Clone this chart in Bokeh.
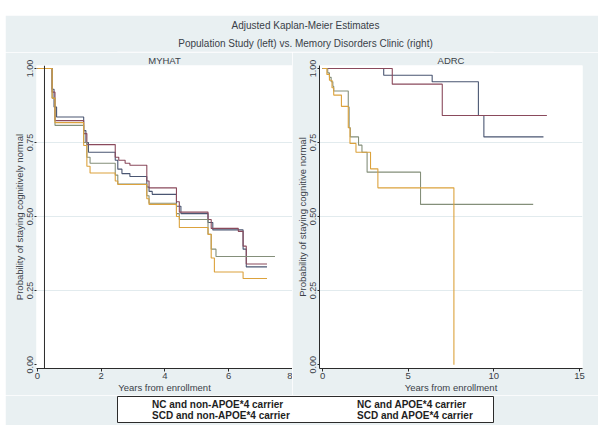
from bokeh.plotting import figure
from bokeh.layouts import column, row, Spacer
from bokeh.models import (Range1d, FixedTicker, NumeralTickFormatter, Span, Title,
                          Legend, LegendItem)
from bokeh.embed import file_html
from bokeh.resources import INLINE

# ---------------- data ----------------
series_labels = ["NC and non-APOE*4 carrier", "NC and APOE*4 carrier",
                 "SCD and non-APOE*4 carrier", "SCD and APOE*4 carrier"]

# MYHAT (population study)
myhat_nc_non_t = [0, 0.46, 0.52, 0.60, 1.45, 1.52, 1.60, 2.44, 2.52, 2.65, 2.90, 3.43, 3.50, 3.60, 4.36, 4.50, 5.35, 5.50, 6.45, 6.55, 7.20]
myhat_nc_non_s = [1.0, 0.93, 0.87, 0.836, 0.79, 0.75, 0.717, 0.69, 0.66, 0.645, 0.635, 0.60, 0.585, 0.575, 0.535, 0.51, 0.48, 0.455, 0.39, 0.33, 0.33]

myhat_nc_apoe_t = [0, 0.46, 0.55, 1.45, 1.55, 2.44, 2.55, 2.75, 2.90, 3.43, 3.50, 4.36, 4.45, 5.35, 5.45, 6.30, 6.45, 6.55, 7.20]
myhat_nc_apoe_s = [1.0, 0.92, 0.824, 0.78, 0.743, 0.70, 0.69, 0.68, 0.673, 0.62, 0.597, 0.55, 0.515, 0.49, 0.46, 0.45, 0.40, 0.34, 0.34]

myhat_scd_non_t = [0, 0.46, 0.55, 1.45, 1.55, 1.65, 2.44, 2.52, 3.43, 3.50, 4.36, 4.45, 5.35, 5.45, 5.60, 7.45]
myhat_scd_non_s = [1.0, 0.90, 0.808, 0.75, 0.70, 0.68, 0.64, 0.61, 0.57, 0.545, 0.51, 0.49, 0.44, 0.39, 0.365, 0.365]

myhat_scd_apoe_t = [0, 0.46, 0.55, 1.45, 1.55, 1.65, 2.44, 2.52, 3.43, 3.50, 4.36, 4.45, 5.35, 5.45, 5.55, 6.45, 7.20]
myhat_scd_apoe_s = [1.0, 0.90, 0.817, 0.74, 0.67, 0.647, 0.62, 0.608, 0.56, 0.541, 0.50, 0.463, 0.44, 0.36, 0.313, 0.291, 0.291]

# ADRC (memory disorders clinic)
adrc_nc_non_t = [0, 3.57, 6.40, 9.10, 9.42, 12.90]
adrc_nc_non_s = [1.0, 0.977, 0.955, 0.841, 0.769, 0.769]

adrc_nc_apoe_t = [0, 4.07, 6.99, 13.10]
adrc_nc_apoe_s = [1.0, 0.947, 0.841, 0.841]

adrc_scd_non_t = [0, 0.30, 0.40, 0.50, 0.60, 0.65, 1.50, 1.55, 1.62, 2.10, 2.30, 2.60, 5.72, 12.30]
adrc_scd_non_s = [1.0, 0.985, 0.97, 0.955, 0.94, 0.924, 0.87, 0.80, 0.769, 0.741, 0.717, 0.65, 0.541, 0.541]

adrc_scd_apoe_t = [0, 0.25, 0.40, 0.55, 0.65, 1.10, 1.50, 1.60, 1.95, 2.80, 3.23, 7.67]
adrc_scd_apoe_s = [1.0, 0.98, 0.96, 0.935, 0.91, 0.872, 0.80, 0.747, 0.717, 0.661, 0.597, 0.0]

left_xticks = [0, 2, 4, 6, 8]
right_xticks = [0, 5, 10, 15]
yticks = [0, 0.25, 0.5, 0.75, 1.0]

# ---------------- style ----------------
FONT = "Liberation Sans"
BG = "#E9F0F2"
TXT = "#3a3f48"
GRID = "#E2EBEE"
COLORS = ["#4a5672", "#8a4a5c", "#848f7a", "#dca23c"]
LW = 1.1
PANEL_H = 343


def make_panel(title, width, x_start, x_end, xticks, ylabel, border_left, border_right):
    p = figure(width=width, height=PANEL_H, x_range=Range1d(x_start, x_end),
               y_range=Range1d(-0.013, 1.01), output_backend="svg",
               toolbar_location=None, min_border_left=border_left,
               min_border_right=border_right, min_border_top=12, min_border_bottom=0)
    p.background_fill_color = "white"
    p.border_fill_color = BG
    p.outline_line_color = None
    p.title.text = title
    p.title.align = "center"
    p.title.text_font = FONT
    p.title.text_font_size = "9.5px"
    p.title.text_font_style = "normal"
    p.title.text_color = TXT
    p.title.standoff = 0
    p.title.offset = 0

    p.xaxis.ticker = FixedTicker(ticks=xticks)
    p.yaxis.ticker = FixedTicker(ticks=yticks)
    p.yaxis.formatter = NumeralTickFormatter(format="0.00")
    p.yaxis.major_label_orientation = "vertical"
    for ax in (p.xaxis[0], p.yaxis[0]):
        ax.minor_tick_line_color = None
        ax.major_tick_in = 0
        ax.major_tick_out = 3
        ax.major_label_standoff = 1
        ax.axis_label_standoff = 0
        ax.axis_line_color = "#2b2b2b"
        ax.major_tick_line_color = "#2b2b2b"
        ax.major_label_text_font = FONT
        ax.major_label_text_font_size = "9.5px"
        ax.major_label_text_color = TXT
        ax.axis_label_text_font = FONT
        ax.axis_label_text_font_size = "9.5px"
        ax.axis_label_text_font_style = "normal"
        ax.axis_label_text_color = TXT
    p.yaxis.major_tick_out = 2
    p.yaxis.major_label_text_font_size = "9px"
    p.xaxis.axis_label = "Years from enrollment"
    p.yaxis.axis_label = ylabel
    p.xgrid.grid_line_color = None
    p.ygrid.grid_line_color = GRID
    p.ygrid.ticker = FixedTicker(ticks=[0.25, 0.5, 0.75])
    return p


left = make_panel("MYHAT", 287, -0.03, 8.0, left_xticks,
                  "Probability of staying cognitively normal", 31, 0)
left.yaxis.axis_line_color = None
left.add_layout(Span(location=0.22, dimension="height", line_color="#2b2b2b", line_width=1))

right = make_panel("ADRC", 306, -0.18, 15.18, right_xticks,
                   "Probability of staying cognitive normal", 27, 16)

myhat = [(myhat_nc_non_t, myhat_nc_non_s), (myhat_nc_apoe_t, myhat_nc_apoe_s),
         (myhat_scd_non_t, myhat_scd_non_s), (myhat_scd_apoe_t, myhat_scd_apoe_s)]
adrc = [(adrc_nc_non_t, adrc_nc_non_s), (adrc_nc_apoe_t, adrc_nc_apoe_s),
        (adrc_scd_non_t, adrc_scd_non_s), (adrc_scd_apoe_t, adrc_scd_apoe_s)]

for (t, s), c in zip(myhat, COLORS):
    left.step(t, s, mode="after", line_color=c, line_width=LW)
for (t, s), c in zip(adrc, COLORS):
    right.step(t, s, mode="after", line_color=c, line_width=LW)

# ---------------- header ----------------
header = figure(width=593, height=37, output_backend="svg", toolbar_location=None,
                x_axis_type=None, y_axis_type=None, min_border_top=34,
                min_border_bottom=0, min_border_left=0, min_border_right=0,
                x_range=Range1d(0, 1), y_range=Range1d(0, 1))
header.background_fill_color = BG
header.border_fill_color = BG
header.outline_line_color = None
header.xgrid.grid_line_color = None
header.ygrid.grid_line_color = None
header.title = None
sub = Title(text="Population Study (left) vs. Memory Disorders Clinic (right)",
            align="center", text_font=FONT, text_font_size="10px",
            text_font_style="normal", text_color=TXT, standoff=5)
main = Title(text="Adjusted Kaplan-Meier Estimates", align="center", text_font=FONT,
             text_font_size="10px", text_font_style="normal", text_color=TXT, standoff=5)
header.add_layout(sub, "above")
header.add_layout(main, "above")

# ---------------- legend ----------------
leg = figure(width=593, height=30, output_backend="svg", toolbar_location=None,
             x_axis_type=None, y_axis_type=None, min_border_top=1, min_border_bottom=3,
             min_border_left=112, min_border_right=105,
             x_range=Range1d(0, 1), y_range=Range1d(0, 1))
leg.background_fill_color = "white"
leg.border_fill_color = BG
leg.outline_line_color = "#2b2b2b"
leg.outline_line_width = 1
leg.xgrid.grid_line_color = None
leg.ygrid.grid_line_color = None
rends = [leg.line(x=[], y=[], line_color=c, line_width=1.5) for c in COLORS]


def make_legend(idx, loc):
    lg = Legend(items=[LegendItem(label=series_labels[i], renderers=[rends[i]]) for i in idx],
                location=loc, orientation="vertical", border_line_color=None,
                background_fill_alpha=0, padding=1, margin=0, spacing=0,
                glyph_width=12, glyph_height=11, label_height=11, label_standoff=6,
                label_text_font=FONT, label_text_font_size="10px",
                label_text_font_style="bold", label_text_color="#1e1e1e")
    return lg


leg.add_layout(make_legend([0, 2], (17, 1)), "center")
leg.add_layout(make_legend([1, 3], (222, 1)), "center")

content = column(header, row(left, right, spacing=0), leg, spacing=0)
layout = column(Spacer(height=15), row(Spacer(width=5), content, spacing=0), spacing=0)

open("out.html", "w").write(file_html(layout, INLINE))
